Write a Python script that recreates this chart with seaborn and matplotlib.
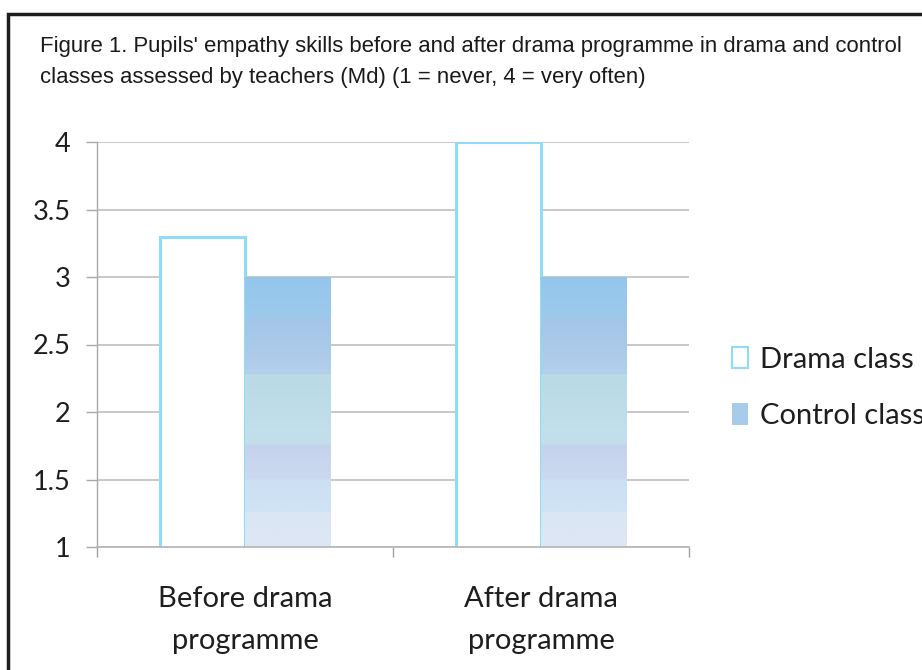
import numpy as np
import pandas as pd
import matplotlib
matplotlib.use("Agg")
import matplotlib.pyplot as plt
import seaborn as sns
from matplotlib.patches import Rectangle, Patch
from matplotlib.colors import to_rgb

# ---- data ----
categories = ["Before drama\nprogramme", "After drama\nprogramme"]
groups = ["Drama class", "Control class"]
drama_values = [3.3, 4.0]
control_values = [3.0, 3.0]
y_ticks = [1, 1.5, 2, 2.5, 3, 3.5, 4]
y_tick_labels = ["1", "1.5", "2", "2.5", "3", "3.5", "4"]
title = ("Figure 1. Pupils' empathy skills before and after drama programme in drama and control\n"
         "classes assessed by teachers (Md) (1 = never, 4 = very often)")

df = pd.DataFrame({
    "category": categories * 2,
    "group": [groups[0]] * 2 + [groups[1]] * 2,
    "value": drama_values + control_values,
})

sns.set_theme(style="white")
plt.rcParams["font.family"] = ["Lato", "DejaVu Sans"]

W, H = 922, 670
fig = plt.figure(figsize=(W / 100, H / 100), dpi=100)
ax = fig.add_axes([97 / W, 1 - 547 / H, (689 - 97) / W, (547 - 142) / H])

drama_edge = "#8fdbf8"
sns.barplot(data=df, x="category", y="value", hue="group", order=categories,
            hue_order=groups, palette=["white", "#93c6ec"], width=0.575,
            ax=ax, legend=False, saturation=1)

ax.set_ylim(1, 4)
ax.set_xlim(-0.5, 1.5)

bands = [(0.0, "#94c6ec"), (0.15, "#9ccaec"), (0.15, "#a2c5e8"), (0.36, "#b3cfeb"),
         (0.36, "#badae6"), (0.62, "#c3dfec"), (0.62, "#c5d2ec"), (0.75, "#cad9f0"),
         (0.75, "#cce0f4"), (0.87, "#d0e3f4"), (0.87, "#dbe6f4"), (1.0, "#dde7f4")]
n = 300
img = np.zeros((n, 1, 3))
for i in range(n):
    f = i / (n - 1)
    for j in range(len(bands) - 1):
        f0, c0 = bands[j]
        f1, c1 = bands[j + 1]
        if f0 <= f <= f1 and f1 > f0:
            t = (f - f0) / (f1 - f0)
            img[i, 0] = (1 - t) * np.array(to_rgb(c0)) + t * np.array(to_rgb(c1))
            break

patches = list(ax.patches)
for k, p in enumerate(patches):
    x0 = p.get_x()
    w = p.get_width()
    top = p.get_y() + p.get_height()
    if k < 2:
        p.set_facecolor("white")
        p.set_edgecolor(drama_edge)
        p.set_linewidth(2.2)
        p.set_zorder(3)
    else:
        p.set_linewidth(0)
        p.set_zorder(3)
        im = ax.imshow(img, extent=[x0, x0 + w, 1, top], aspect="auto",
                       zorder=3.5, interpolation="bilinear")
        im.set_clip_path(p)

ax.set_yticks(y_ticks)
ax.set_yticklabels(y_tick_labels)
ax.set_xlabel("")
ax.set_ylabel("")
ax.yaxis.grid(True, color="#c4c4c4", linewidth=1.3)
ax.set_axisbelow(True)
for s in ["top", "right"]:
    ax.spines[s].set_visible(False)
ax.spines["left"].set_color("#a8a8a8")
ax.spines["left"].set_linewidth(1.0)
ax.spines["bottom"].set_color("#b8b8b8")
ax.spines["bottom"].set_linewidth(1.3)
ax.spines["bottom"].set_zorder(5)

ax.tick_params(axis="y", which="major", direction="out", length=8, width=1,
               color="#a8a8a8", left=True, labelsize=19.5, labelcolor="#1e1e1e", pad=11)
ax.set_xticks([0, 1])
ax.set_xticklabels(categories, linespacing=1.75)
ax.tick_params(axis="x", which="major", length=0, labelsize=21, labelcolor="#1e1e1e", pad=28)
ax.set_xticks([-0.5, 0.5, 1.5], minor=True)
ax.tick_params(axis="x", which="minor", direction="out", length=7, width=1,
               color="#a0a0a0", bottom=True)

# legend
h1 = Patch(facecolor="white", edgecolor=drama_edge, linewidth=1.5)
h2 = Patch(facecolor="#a9cbea", edgecolor="none")
fig.legend([h1, h2], groups, loc="center left", bbox_to_anchor=(706 / W, 1 - 388 / H),
           frameon=False, fontsize=21, labelspacing=1.05, handlelength=0.55,
           handleheight=0.75, handletextpad=0.4, labelcolor="#1e1e1e")

# title
fig.text(40 / W, 1 - 36 / H, title, ha="left", va="top", fontsize=15.9,
         family=["Liberation Sans", "DejaVu Sans"],
         color="#1a1a1a", linespacing=1.6)

# outer frame
fig.add_artist(Rectangle((8 / W, -0.2), 2.0, 1 - 14 / H + 0.2, transform=fig.transFigure,
                         fill=False, edgecolor="#1e1e1e", linewidth=2.5))

fig.savefig("out.png", dpi=100, facecolor="white")
